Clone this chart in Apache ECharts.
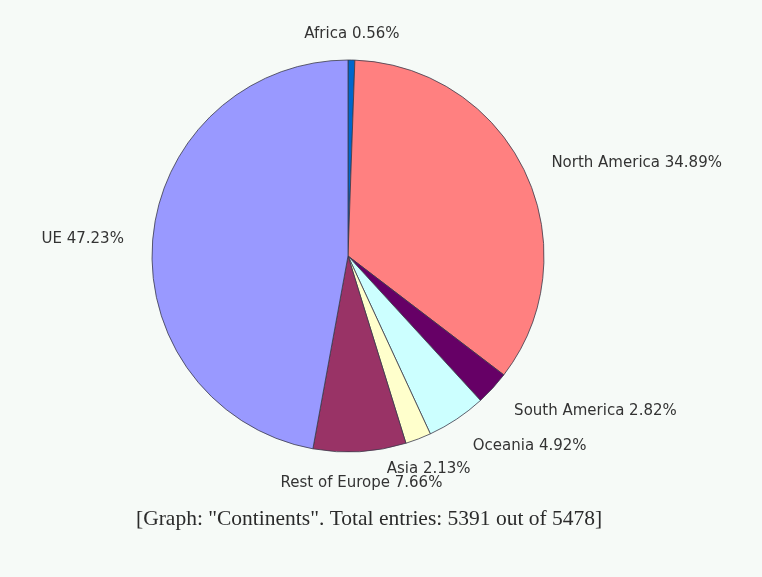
<!DOCTYPE html>
<html>
<head>
<meta charset="utf-8">
<script src="https://cdn.jsdelivr.net/npm/echarts@6/dist/echarts.min.js"></script>
<style>
  html, body { margin: 0; padding: 0; background: #f6faf7; }
  #chart { width: 762px; height: 577px; }
</style>
</head>
<body>
<div id="chart"></div>
<script>
// Share of entries per continent, clockwise from 12 o'clock
const continents = ['Africa', 'North America', 'South America', 'Oceania', 'Asia', 'Rest of Europe', 'UE'];
const shares = [0.56, 34.89, 2.82, 4.92, 2.13, 7.66, 47.23];
const sliceColors = ['#0066cc', '#ff8080', '#660066', '#ccffff', '#ffffcc', '#993366', '#9999ff'];
const caption = '[Graph: "Continents". Total entries: 5391 out of 5478]';

// Mid angle of every slice (radians, clockwise from the top), used to pick label alignment
const total = shares.reduce((a, b) => a + b, 0);
const midAngles = [];
shares.reduce((acc, v) => {
  midAngles.push((acc + v / 2) / total * 2 * Math.PI);
  return acc + v;
}, 0);

const chart = echarts.init(document.getElementById('chart'));
chart.setOption({
  backgroundColor: '#f6faf7',
  animation: false,
  title: {
    text: caption,
    left: 131,
    top: 503,
    textStyle: {
      fontFamily: 'Liberation Serif',
      fontWeight: 'normal',
      fontSize: 21.5,
      color: '#2b2b2b'
    }
  },
  series: [{
    type: 'pie',
    center: [348, 256],
    radius: 196,
    startAngle: 90,
    clockwise: true,
    avoidLabelOverlap: false,
    data: continents.map((name, i) => ({
      name: name,
      value: shares[i],
      itemStyle: { color: sliceColors[i] }
    })),
    itemStyle: { borderColor: '#3a3a4a', borderWidth: 0.8 },
    label: {
      show: true,
      position: 'outside',
      distanceToLabelLine: 0,
      formatter: p => p.name + ' ' + p.value.toFixed(2) + '%',
      fontFamily: 'DejaVu Sans',
      fontSize: 15,
      color: '#333333',
      textBorderColor: 'transparent'
    },
    labelLine: { show: false, length: 29, length2: 0 },
    // labels close to the vertical axis are centred on their anchor
    labelLayout: params => {
      const s = Math.sin(midAngles[params.dataIndex]);
      const opt = { dy: 3 };
      if (Math.abs(s) < 0.4) opt.align = 'center';
      return opt;
    },
    emphasis: { disabled: true }
  }]
});
</script>
</body>
</html>
